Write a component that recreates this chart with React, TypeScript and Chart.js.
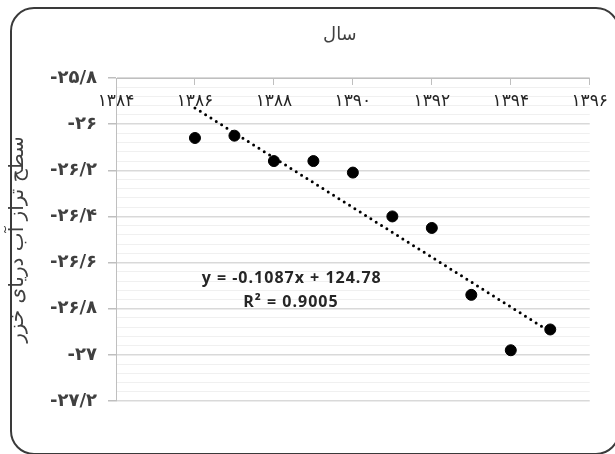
import React, { useEffect, useRef } from "react";
import { Chart, registerables } from "chart.js";

Chart.register(...registerables);

// ---- data ----
const years = [1386, 1387, 1388, 1389, 1390, 1391, 1392, 1393, 1394, 1395];
const levels = [-26.06, -26.05, -26.16, -26.16, -26.21, -26.4, -26.45, -26.74, -26.98, -26.89];

const trendYears = [1386, 1395];
const trendLevels = [-25.93, -26.9];

const xTickValues = [1384, 1386, 1388, 1390, 1392, 1394, 1396];
const xTickLabels = ["۱۳۸۴", "۱۳۸۶", "۱۳۸۸", "۱۳۹۰", "۱۳۹۲", "۱۳۹۴", "۱۳۹۶"];

const yTickValues = [-27.2, -27, -26.8, -26.6, -26.4, -26.2, -26, -25.8];
const yTickLabels = ["-۲۷/۲", "-۲۷", "-۲۶/۸", "-۲۶/۶", "-۲۶/۴", "-۲۶/۲", "-۲۶", "-۲۵/۸"];
const yMinorStep = 0.04;

const chartTitle = "سال";
const yAxisTitle = "سطح تراز آب دریای خزر";
const equationText = "y = -0.1087x + 124.78";
const r2Text = "R² = 0.9005";

const PERSIAN_FONT = '"DejaVu Sans", "Noto Sans", sans-serif';

const isMajor = (v: number) => yTickValues.some((t) => Math.abs(t - v) < 1e-6);

const withSpacing = (s: any, spacing: string) => {
  if (s.__spaced) return;
  s.__spaced = true;
  const orig = s.drawLabels;
  s.drawLabels = function (area: any) {
    const ctx = this.ctx;
    const prev = ctx.letterSpacing;
    ctx.letterSpacing = spacing;
    orig.call(this, area);
    ctx.letterSpacing = prev || "0px";
  };
};

const textPlugin = {
  id: "textPlugin",
  afterDraw(chart: any) {
    const { ctx, chartArea, scales } = chart;
    ctx.save();
    ctx.fillStyle = "#404040";
    ctx.textAlign = "center";
    ctx.textBaseline = "middle";
    ctx.font = `18px ${PERSIAN_FONT}`;
    ctx.fillText(chartTitle, (chartArea.left + chartArea.right) / 2 - 13, 35);

    ctx.fillStyle = "#262626";
    ctx.font = 'bold 16px "Open Sans", Lato, sans-serif';
    ctx.letterSpacing = "1px";
    const xs = scales.x;
    const ys = scales.y;
    ctx.fillText(equationText, xs.getPixelForValue(1388.45), ys.getPixelForValue(-26.667));
    ctx.fillText(r2Text, xs.getPixelForValue(1388.43), ys.getPixelForValue(-26.772));
    ctx.restore();
  },
};

export default function App() {
  const ref = useRef<HTMLCanvasElement | null>(null);

  useEffect(() => {
    if (!ref.current) return;
    const minorValues: number[] = [];
    const n = Math.round((yTickValues[yTickValues.length - 1] - yTickValues[0]) / yMinorStep);
    for (let i = 0; i <= n; i++) {
      minorValues.push(Math.round((yTickValues[0] + i * yMinorStep) * 1000) / 1000);
    }

    const chart = new Chart(ref.current, {
      type: "scatter",
      data: {
        datasets: [
          {
            label: "points",
            data: years.map((x, i) => ({ x, y: levels[i] })),
            backgroundColor: "#000",
            borderColor: "#000",
            pointRadius: 5.5,
            pointHoverRadius: 5.5,
            showLine: false,
          },
          {
            label: "trend",
            data: trendYears.map((x, i) => ({ x, y: trendLevels[i] })),
            showLine: true,
            borderColor: "#000",
            borderWidth: 3,
            borderDash: [0, 6.3],
            borderCapStyle: "round",
            pointRadius: 0,
            pointHoverRadius: 0,
            fill: false,
          } as any,
        ],
      },
      options: {
        responsive: false,
        animation: false,
        events: [],
        layout: { padding: { left: 4, top: 78, right: 23, bottom: 53 } },
        plugins: {
          legend: { display: false },
          tooltip: { enabled: false },
          title: { display: false },
        },
        scales: {
          x: {
            type: "linear",
            position: { y: -25.8 } as any,
            min: 1384,
            max: 1396,
            afterBuildTicks: (s: any) => {
              s.ticks = xTickValues.map((v) => ({ value: v }));
              withSpacing(s, "2px");
            },
            afterFit: (s: any) => {
              s.height = 30;
            },
            grid: {
              drawOnChartArea: false,
              drawTicks: true,
              tickLength: 6,
              color: "#bfbfbf",
              lineWidth: 1,
            },
            border: { display: true, color: "#bfbfbf", width: 1 },
            ticks: {
              autoSkip: false,
              maxRotation: 0,
              padding: 7,
              color: "#262626",
              font: { family: PERSIAN_FONT, size: 17 },
              callback: (v: any) => {
                const i = xTickValues.findIndex((t) => Math.abs(t - Number(v)) < 1e-6);
                return i >= 0 ? xTickLabels[i] : "";
              },
            },
          },
          y: {
            type: "linear",
            position: "left",
            min: yTickValues[0],
            max: yTickValues[yTickValues.length - 1],
            afterBuildTicks: (s: any) => {
              s.ticks = minorValues.map((v) => ({ value: v }));
              withSpacing(s, "2px");
            },
            afterFit: (s: any) => {
              s.width = 112;
            },
            grid: {
              color: (c: any) => (isMajor(c.tick.value) ? "#d9d9d9" : "#f0f0f0"),
              lineWidth: (c: any) => (isMajor(c.tick.value) ? 1.5 : 1),
              tickColor: (c: any) => (isMajor(c.tick.value) ? "#bfbfbf" : "rgba(0,0,0,0)"),
              tickLength: 8,
              drawTicks: true,
            },
            border: { display: true, color: "#bfbfbf", width: 1 },
            ticks: {
              autoSkip: false,
              padding: 11,
              color: "#404040",
              font: { family: PERSIAN_FONT, size: 18, weight: "bold" },
              callback: (v: any) => {
                const i = yTickValues.findIndex((t) => Math.abs(t - Number(v)) < 1e-6);
                return i >= 0 ? yTickLabels[i] : "";
              },
            },
            title: {
              display: true,
              text: yAxisTitle,
              color: "#404040",
              font: { family: PERSIAN_FONT, size: 20 },
              padding: { top: 2, bottom: 0 },
            },
          },
        },
      },
      plugins: [textPlugin],
    });
    return () => chart.destroy();
  }, []);

  return (
    <div
      style={{
        position: "fixed",
        left: 0,
        top: 0,
        width: 615,
        height: 454,
        overflow: "hidden",
        background: "#fff",
      }}
    >
      <canvas ref={ref} width={615} height={454} style={{ position: "absolute", left: 0, top: 0, width: 615, height: 454 }} />
      <div
        style={{
          position: "absolute",
          left: 10,
          top: 7,
          width: 610,
          height: 448,
          boxSizing: "border-box",
          border: "2px solid #3a3a3a",
          borderRadius: 24,
          pointerEvents: "none",
        }}
      />
    </div>
  );
}
